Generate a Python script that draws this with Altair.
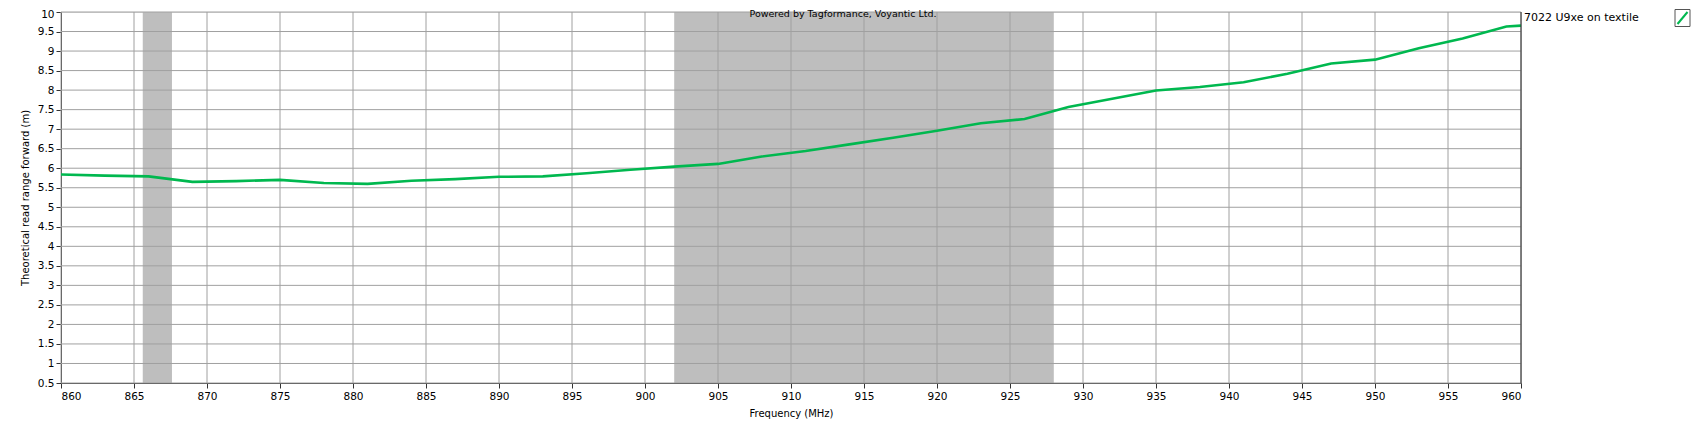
import altair as alt
import pandas as pd

# ---- data ----
freq = [860, 863, 866, 869, 872, 875, 878, 881, 884, 887, 890, 893, 896, 899, 902,
        905, 908, 911, 914, 917, 920, 923, 926, 929, 932, 935, 938, 941, 944, 947,
        950, 953, 956, 959, 960]
read_range = [5.84, 5.81, 5.79, 5.65, 5.67, 5.70, 5.62, 5.60, 5.68, 5.72,
              5.78, 5.79, 5.87, 5.96, 6.04, 6.11, 6.30, 6.44, 6.61, 6.78,
              6.96, 7.15, 7.26, 7.57, 7.78, 7.99, 8.08, 8.20, 8.42, 8.68,
              8.78, 9.07, 9.32, 9.63, 9.65]
series_name = "7022 U9xe on textile"
band_start = [865.6, 902.0]
band_end = [867.6, 928.0]
x_ticks = [860 + 5 * i for i in range(21)]
y_ticks = [0.5 * i for i in range(1, 21)]
credit = "Powered by Tagformance, Voyantic Ltd."
x_title = "Frequency (MHz)"
y_title = "Theoretical read range forward (m)"

W, H = 1460, 371
FONT = "DejaVu Sans"
GRID = "#a0a0a0"
GREEN = "#00b84f"

xs = alt.Scale(domain=[860, 960], nice=False, zero=False)
ys = alt.Scale(domain=[0.5, 10], nice=False, zero=False)

ax_x = alt.Axis(values=x_ticks, grid=False, domainColor="#333333",
                tickColor="#333333", tickSize=5, labelPadding=3,
                labelFont=FONT, labelFontSize=10.5, labelColor="#000000",
                titleFont=FONT, titleFontSize=10, titleFontWeight="normal",
                titleColor="#000000", titleY=30, titleBaseline="middle")
ax_y = alt.Axis(values=y_ticks, grid=False, domainColor="#333333", format="~g",
                tickColor="#333333", tickSize=5, labelPadding=2,
                labelFont=FONT, labelFontSize=10.5, labelColor="#000000",
                labelOverlap=False,
                labelOffset={"condition": {"test": "datum.value >= 10", "value": 2},
                             "value": 0},
                titleFont=FONT, titleFontSize=10, titleFontWeight="normal",
                titleColor="#000000", titleX=-33, titleY=H / 2,
                titleAngle=-90, titleAlign="center", titleBaseline="alphabetic")

df_line = pd.DataFrame({"f": freq, "r": read_range})
df_band = pd.DataFrame({"f": band_start, "b": band_end})
df_xg = pd.DataFrame({"f": x_ticks})
df_yg = pd.DataFrame({"r": y_ticks})

X = lambda: alt.X("f:Q", scale=xs, axis=ax_x, title=x_title)
Y = lambda: alt.Y("r:Q", scale=ys, axis=ax_y, title=y_title)

bands = alt.Chart(df_band).mark_rect(color="#bebebe").encode(x=X(), x2="b:Q")

xgrid = alt.Chart(df_xg).mark_rule(color=GRID, strokeWidth=1).encode(x=X())
ygrid = alt.Chart(df_yg).mark_rule(color=GRID, strokeWidth=1).encode(y=Y())

line = alt.Chart(df_line).mark_line(color=GREEN, strokeWidth=2.6).encode(x=X(), y=Y())

right_border = alt.Chart(pd.DataFrame({"f": [960]})).mark_rule(color="#333333").encode(x=X())

credit_txt = alt.Chart(pd.DataFrame({"t": [credit]})).mark_text(
    font=FONT, fontSize=9.5, color="#000000", align="center", baseline="top").encode(
    text="t:N", x=alt.value(782), y=alt.value(-3.5))

leg_txt = alt.Chart(pd.DataFrame({"t": [series_name]})).mark_text(
    font=FONT, fontSize=11, color="#000000", align="left", baseline="middle").encode(
    text="t:N", x=alt.value(1463), y=alt.value(5.5))

leg_box = alt.Chart(pd.DataFrame({"t": [series_name]})).mark_rect(
    fill="#ffffff", stroke="#555555", strokeWidth=1).encode(
    x=alt.value(1614), x2=alt.value(1629), y=alt.value(-2.5), y2=alt.value(14.5))

leg_line = alt.Chart(pd.DataFrame({"t": [series_name]})).mark_rule(
    color=GREEN, strokeWidth=2).encode(
    x=alt.value(1616.5), x2=alt.value(1626.5), y=alt.value(12), y2=alt.value(0))

chart = alt.layer(bands, xgrid, ygrid, line, right_border, credit_txt,
                  leg_txt, leg_box, leg_line).properties(
    width=W, height=H,
    autosize=alt.AutoSizeParams(type="none"),
    padding={"left": 53, "top": 4, "right": 175, "bottom": 44},
).configure_view(stroke=GRID).configure(background="#ffffff")

chart.save("out.html", embed_options={"renderer": "svg", "actions": False})
